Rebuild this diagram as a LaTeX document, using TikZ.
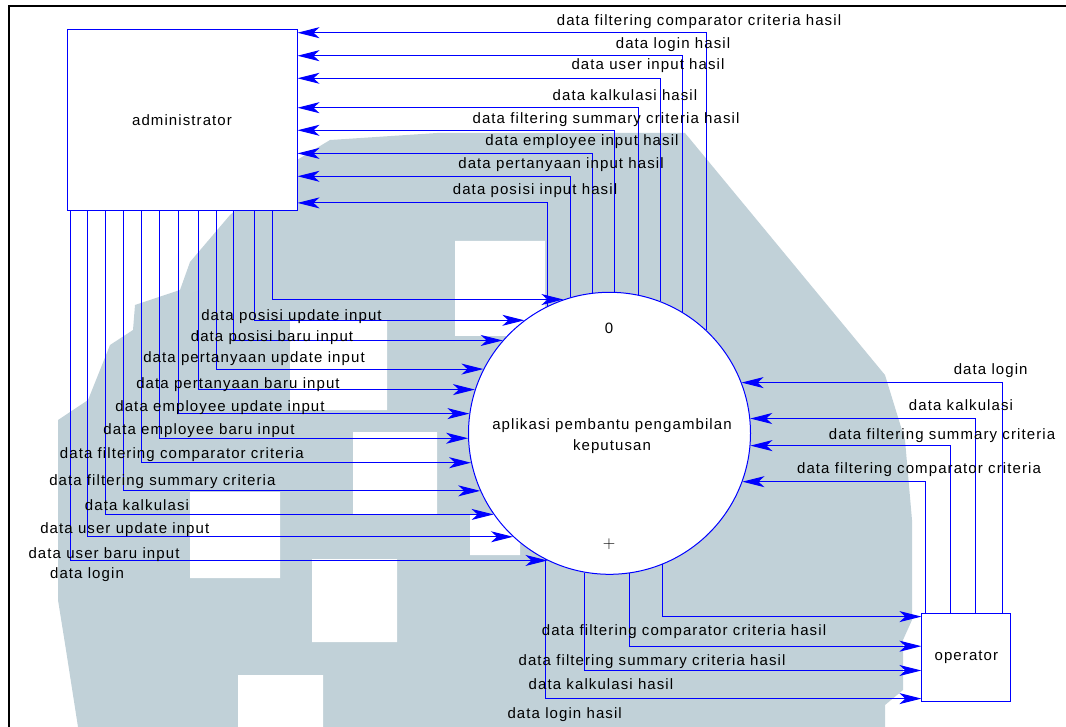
\documentclass[tikz,border=0pt]{standalone}
\usepackage{fontspec}
\setmainfont{Liberation Sans}[LetterSpace=7.3]
\usetikzlibrary{arrows.meta}
\definecolor{flowblue}{RGB}{0,0,255}
\definecolor{wmgrey}{RGB}{193,209,216}

\begin{document}
\begin{tikzpicture}[x=1pt, y=-1pt, >={Stealth[length=22pt,width=11pt,inset=6pt]},
  flow/.style={->, draw=flowblue, line width=1pt},
  entity/.style={draw=flowblue, fill=white, line width=1pt, inner sep=0pt, font=\fontsize{15}{18}\selectfont},
  proc/.style={circle, draw=flowblue, fill=white, line width=1pt, minimum size=282pt, inner sep=0pt},
  lbl/.style={inner sep=0pt, text height=11pt, text depth=0pt, font=\fontsize{15}{18}\selectfont}]
  \useasboundingbox (0,0) rectangle (1066,727);
  % watermark behind the diagram
  \fill[wmgrey] (437,133) -- (685,133) -- (885,375) -- (905,440) -- (912,520) -- (912,620) -- (903,640)
    -- (903,690) -- (885,705) -- (885,727) -- (78,727) -- (66,650) -- (58,600) -- (58,420) -- (88,400)
    -- (110,345) -- (133,330) -- (135,305) -- (180,290) -- (190,262) -- (230,215) -- (297,160) -- (330,140) -- cycle;
  \fill[white] (455,241) rectangle (545,336) (290,320) rectangle (387,410) (353,432) rectangle (437,514)
    (190,492) rectangle (280,578) (312,559) rectangle (397,642) (238,675) rectangle (323,727) (470,514) rectangle (520,555);
  % page frame
  \draw[line width=2pt] (8.7,727) -- (8.7,5.8) -- (1066,5.8);

  % external entities and the process
  \node[entity, minimum width=230pt, minimum height=181pt] (admin) at (182,119.8) {administrator};
  \node[entity, minimum width=89pt, minimum height=88pt] (opr) at (966.4,657.7) {operator};
  \node[proc] (proc) at (609.5,433.3) {};
  \node[align=center, inner sep=0pt, font=\fontsize{15}{21}\selectfont] (pname) at (612,436) {aplikasi pembantu pengambilan\\keputusan};
  \node[lbl] (pnum) at (609,327.7) {0};
  \node[inner sep=0pt] (pplus) at (609,544) {\fontsize{16}{16}\selectfont$+$};

  % administrator -> process
  \draw[flow] (admin.south -| 272.0,0) |- (proc.109.9);
  \draw[flow] (admin.south -| 254.1,0) |- (proc.127.7);
  \draw[flow] (admin.south -| 233.1,0) |- (proc.139.8);
  \draw[flow] (admin.south -| 216.6,0) |- (proc.153.0);
  \draw[flow] (admin.south -| 198.3,0) |- (proc.162.8);
  \draw[flow] (admin.south -| 178.7,0) |- (proc.172.3);
  \draw[flow] (admin.south -| 159.1,0) |- (proc.182.4);
  \draw[flow] (admin.south -| 141.2,0) |- (proc.192.7);
  \draw[flow] (admin.south -| 123.3,0) |- (proc.204.0);
  \draw[flow] (admin.south -| 105.0,0) |- (proc.215.4);
  \draw[flow] (admin.south -| 87.1,0) |- (proc.227.5);
  \draw[flow] (admin.south -| 70.6,0) |- (proc.244.9);
  \node[lbl] (in1) at (291.5,315) {data posisi update input};
  \node[lbl] (in2) at (272,336) {data posisi baru input};
  \node[lbl] (in3) at (254,356.7) {data pertanyaan update input};
  \node[lbl] (in4) at (238,383.3) {data pertanyaan baru input};
  \node[lbl] (in5) at (220,405.7) {data employee update input};
  \node[lbl] (in6) at (199,429) {data employee baru input};
  \node[lbl] (in7) at (181.8,453.3) {data filtering comparator criteria};
  \node[lbl] (in8) at (162.4,480) {data filtering summary criteria};
  \node[lbl] (in9) at (137,505) {data kalkulasi};
  \node[lbl] (in10) at (124.8,528.3) {data user update input};
  \node[lbl] (in11) at (104,552.7) {data user baru input};
  \node[lbl] (in12) at (87,573.3) {data login};

  % process -> administrator
  \draw[flow] (proc.116.9) |- (admin.east |- 0,202.9);
  \draw[flow] (proc.106.8) |- (admin.east |- 0,176.3);
  \draw[flow] (proc.97.9) |- (admin.east |- 0,153.4);
  \draw[flow] (proc.88.7) |- (admin.east |- 0,130.3);
  \draw[flow] (proc.78.6) |- (admin.east |- 0,107.7);
  \draw[flow] (proc.69.6) |- (admin.east |- 0,78.3);
  \draw[flow] (proc.59.2) |- (admin.east |- 0,55.7);
  \draw[flow] (proc.47.8) |- (admin.east |- 0,32.7);
  \node[lbl] (out1) at (535,188.7) {data posisi input hasil};
  \node[lbl] (out2) at (561,163) {data pertanyaan input hasil};
  \node[lbl] (out3) at (582,140) {data employee input hasil};
  \node[lbl] (out4) at (606,117.7) {data filtering summary criteria hasil};
  \node[lbl] (out5) at (625,95) {data kalkulasi hasil};
  \node[lbl] (out6) at (648,64.3) {data user input hasil};
  \node[lbl] (out7) at (673,42.7) {data login hasil};
  \node[lbl] (out8) at (699,20) {data filtering comparator criteria hasil};

  % operator -> process
  \draw[flow] (opr.north -| 1002.5,0) |- (proc.21.6);
  \draw[flow] (opr.north -| 975.0,0) |- (proc.6.3);
  \draw[flow] (opr.north -| 950.2,0) |- (proc.-5.9);
  \draw[flow] (opr.north -| 925.7,0) |- (proc.-20.0);
  \node[lbl] (op1) at (990.7,369.3) {data login};
  \node[lbl] (op2) at (961,405) {data kalkulasi};
  \node[lbl] (op3) at (942,434.3) {data filtering summary criteria};
  \node[lbl] (op4) at (919,467.7) {data filtering comparator criteria};

  % process -> operator
  \draw[flow] (proc.243.1) |- (opr.west |- 0,698.6);
  \draw[flow] (proc.260.0) |- (opr.west |- 0,670.5);
  \draw[flow] (proc.278.6) |- (opr.west |- 0,646.2);
  \draw[flow] (proc.292.0) |- (opr.west |- 0,616.6);
  \node[lbl] (ret1) at (684,630) {data filtering comparator criteria hasil};
  \node[lbl] (ret2) at (652,660) {data filtering summary criteria hasil};
  \node[lbl] (ret3) at (601,684.3) {data kalkulasi hasil};
  \node[lbl] (ret4) at (564.7,712.7) {data login hasil};
\end{tikzpicture}
\end{document}
